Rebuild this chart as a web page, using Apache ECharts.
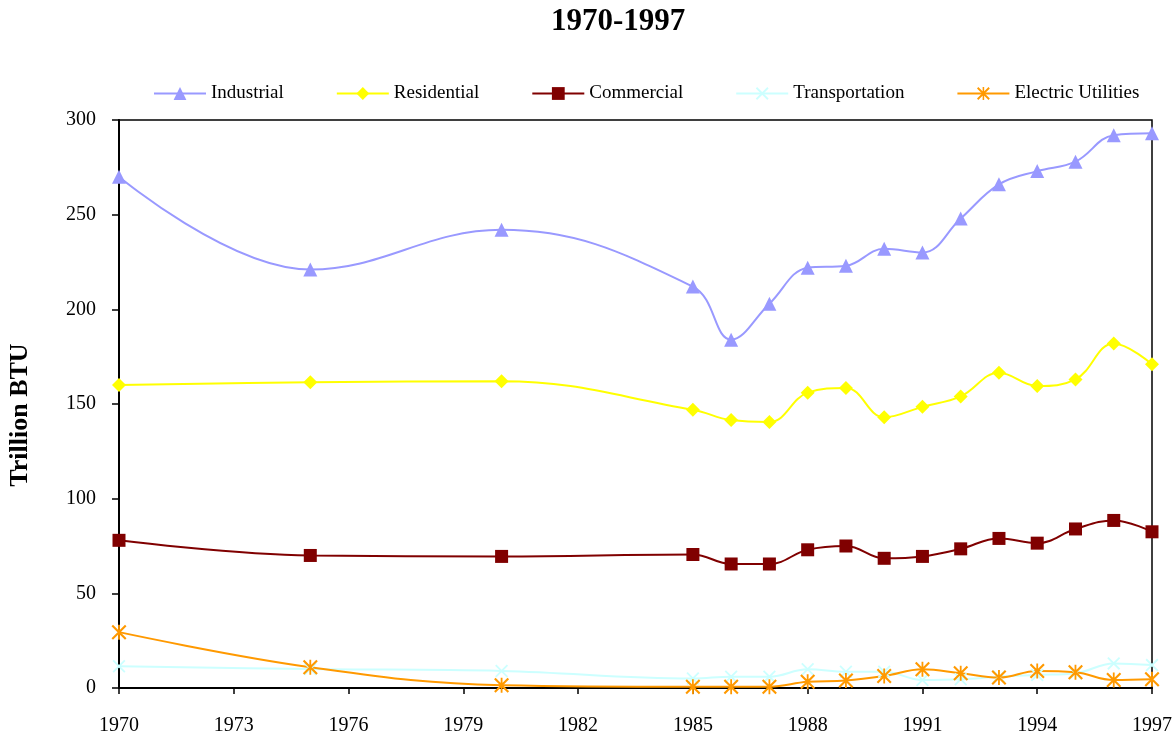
<!DOCTYPE html>
<html>
<head>
<meta charset="utf-8">
<script src="https://cdn.jsdelivr.net/npm/echarts@6/dist/echarts.min.js"></script>
<style>html,body{margin:0;padding:0;background:#fff}#c{width:1175px;height:736px}</style>
</head>
<body>
<div id="c"></div>
<script>
var years = [1970, 1975, 1980, 1985, 1986, 1987, 1988, 1989, 1990, 1991, 1992, 1993, 1994, 1995, 1996, 1997];
var industrial = [270, 221, 242, 212, 184, 203, 222, 223, 232, 230, 248, 266, 273, 278, 292, 293];
var residential = [160, 161.5, 162, 147, 141.5, 140.5, 156, 158.5, 143, 148.5, 154, 166.5, 159.5, 163, 182, 171];
var commercial = [78, 70, 69.5, 70.5, 65.5, 65.5, 73, 75, 68.5, 69.5, 73.5, 79, 76.5, 84, 88.5, 82.5];
var transportation = [11.5, 10, 9, 5, 6, 6, 9.9, 8.6, 8.6, 4.2, 4.6, 6, 6.9, 7.8, 13, 12.1];
var electric = [29.5, 11, 1.5, 0.7, 0.7, 0.7, 3.3, 3.9, 6.3, 9.9, 7.8, 5.5, 9, 8.3, 4.2, 4.6];
var xTicks = [1970, 1973, 1976, 1979, 1982, 1985, 1988, 1991, 1994, 1997];

var FONT = '"Liberation Serif", "Times New Roman", serif';
var xPath = 'path://M0,1 L1,0 L10,9 L9,10 Z M9,0 L10,1 L1,10 L0,9 Z';
var starPath = 'path://M0,1 L1,0 L10,9 L9,10 Z M9,0 L10,1 L1,10 L0,9 Z M4.4,0 L5.6,0 L5.6,10 L4.4,10 Z';

function pairs(vals) { return years.map(function (y, i) { return [y, vals[i]]; }); }

function mk(name, vals, color, symbol, size) {
  return {
    name: name, type: 'line', data: pairs(vals), smooth: 0.4,
    symbol: symbol, symbolSize: size,
    lineStyle: { color: color, width: 2 },
    itemStyle: { color: color },
    emphasis: { disabled: true }
  };
}

var chart = echarts.init(document.getElementById('c'));
chart.setOption({
  animation: false,
  backgroundColor: '#fff',
  title: {
    text: '1970-1997', left: 546, top: 1,
    textStyle: { fontFamily: FONT, fontSize: 31, fontWeight: 'bold', color: '#000' }
  },
  legend: {
    left: 148, top: 79, itemWidth: 52, itemHeight: 16, itemGap: 52,
    textStyle: { fontFamily: FONT, fontSize: 19, color: '#000' },
    data: ['Industrial', 'Residential', 'Commercial', 'Transportation', 'Electric Utilities']
  },
  graphic: [{
    type: 'text', x: 20, y: 415, rotation: Math.PI / 2,
    style: { text: 'Trillion BTU', font: 'bold 26px ' + FONT, fill: '#000', align: 'center', verticalAlign: 'middle' }
  }],
  grid: { left: 119, right: 23, top: 120, bottom: 48, show: true, borderColor: '#000', borderWidth: 1.5, backgroundColor: 'transparent' },
  xAxis: {
    type: 'value', min: 1970, max: 1997,
    axisLine: { show: true, onZero: false, lineStyle: { color: '#000', width: 2 } },
    axisTick: { show: true, inside: false, length: 6, customValues: xTicks, lineStyle: { color: '#000', width: 1.5 } },
    axisLabel: { customValues: xTicks, formatter: function (v) { return String(v); }, fontFamily: FONT, fontSize: 20, color: '#000', margin: 28, showMinLabel: true, showMaxLabel: true },
    splitLine: { show: false }
  },
  yAxis: {
    type: 'value', min: 0, max: 300, interval: 50,
    axisLine: { show: true, lineStyle: { color: '#000', width: 2 } },
    axisTick: { show: true, inside: false, length: 7, lineStyle: { color: '#000', width: 1.5 } },
    axisLabel: { fontFamily: FONT, fontSize: 20, color: '#000', margin: 23 },
    splitLine: { show: false }
  },
  series: [
    mk('Industrial', industrial, '#9999FF', 'triangle', 14),
    mk('Residential', residential, '#FFFF00', 'diamond', 14),
    mk('Commercial', commercial, '#800000', 'rect', 13),
    mk('Transportation', transportation, '#CCFFFF', xPath, 13),
    mk('Electric Utilities', electric, '#FF9900', starPath, 15)
  ]
});
</script>
</body>
</html>
